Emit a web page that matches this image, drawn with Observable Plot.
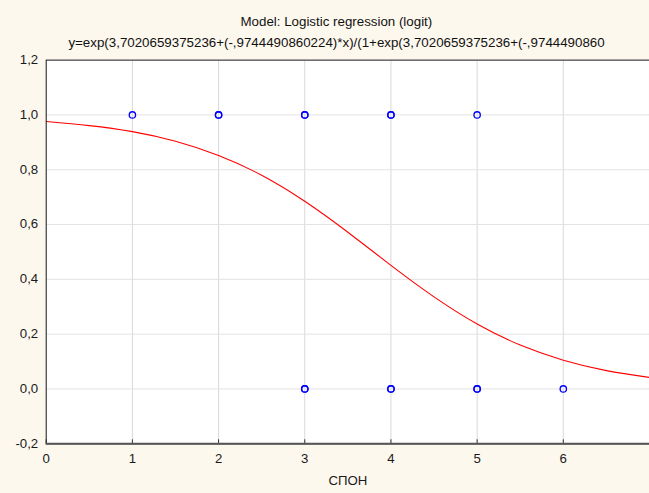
<!DOCTYPE html>
<html>
<head>
<meta charset="utf-8">
<script src="https://cdn.jsdelivr.net/npm/d3@7"></script>
<script src="https://cdn.jsdelivr.net/npm/@observablehq/plot@0.6"></script>
<style>
  html, body { margin: 0; padding: 0; }
  body { background: #fdf8ee; width: 649px; height: 493px; overflow: hidden; position: relative;
         font-family: "Liberation Sans", Arial, sans-serif; }
  .ttl { position: absolute; left: 0; width: 673px; text-align: center; font-size: 12px; line-height: 14px; color: #111; }
  .ttl span { display: inline-block; transform: scaleX(1.11); }
  #chart { position: absolute; left: 0; top: 0; }
</style>
</head>
<body>
<div class="ttl" style="top:15px"><span>Model: Logistic regression (logit)</span></div>
<div class="ttl" style="top:36px"><span>y=exp(3,7020659375236+(-,9744490860224)*x)/(1+exp(3,7020659375236+(-,9744490860</span></div>
<div id="chart"></div>
<script>
// Tick values
const xTicks = [0, 1, 2, 3, 4, 5, 6];
const yTicks = [-0.2, 0, 0.2, 0.4, 0.6, 0.8, 1.0, 1.2];

// Observations (СПОН, outcome); repeated values overlap
const obsSpon    = [1, 2, 2, 3, 3, 4, 4, 5, 3, 3, 4, 4, 5, 5, 6];
const obsOutcome = [1, 1, 1, 1, 1, 1, 1, 1, 0, 0, 0, 0, 0, 0, 0];

// Fitted logistic curve
const curveX = [0, 0.5, 1, 1.5, 2, 2.5, 3, 3.5, 4, 4.5, 5, 5.5, 6, 6.5, 7];
const curveY = [0.976, 0.961, 0.939, 0.904, 0.852, 0.780, 0.685, 0.572, 0.451, 0.336, 0.237, 0.160, 0.105, 0.067, 0.042];

const obs = obsSpon.map((x, i) => ({x, y: obsOutcome[i]}));
const curve = curveX.map((x, i) => ({x, y: curveY[i]}));
const fmtY = d => d.toFixed(1).replace(".", ",");

const chart = Plot.plot({
  width: 653,
  height: 493,
  marginLeft: 46,
  marginRight: 0,
  marginTop: 60,
  marginBottom: 47,
  style: {background: "transparent", fontFamily: "'Liberation Sans', Arial, sans-serif", fontSize: "12px", color: "#1a1a1a", overflow: "visible"},
  x: {domain: [0, 7]},
  y: {domain: [-0.2, 1.2]},
  marks: [
    Plot.frame({fill: "white"}),
    Plot.gridX(xTicks, {stroke: "#d8d8d8", strokeOpacity: 1}),
    Plot.gridY(yTicks, {stroke: "#e2e2e2", strokeOpacity: 1}),
    Plot.axisY(yTicks, {tickSize: 0, tickPadding: 8, tickFormat: fmtY, label: null}),
    Plot.axisX(xTicks, {tickSize: 0, tickPadding: 11, tickFormat: d => String(d), label: "СПОН", labelArrow: "none", labelAnchor: "center", labelOffset: 42}),
    Plot.axisX(xTicks, {tickSize: 4, dy: -4, tickFormat: () => "", label: null, stroke: "#333"}),
    Plot.line(curve, {x: "x", y: "y", stroke: "#ff0000", strokeWidth: 1.1, curve: "natural"}),
    Plot.dot(obs, {x: "x", y: "y", r: 3.2, stroke: "#0000ff", strokeWidth: 1.3, fill: "none"}),
    Plot.frame({stroke: "#222", strokeWidth: 1}),
    Plot.ruleY([-0.2], {stroke: "#555", strokeWidth: 2})
  ]
});
document.getElementById("chart").append(chart);

// stretch text horizontally like the reference
chart.querySelectorAll("text").forEach(t => {
  const bb = t.getBBox();
  const anchor = getComputedStyle(t).textAnchor;
  const ax = anchor === "end" ? bb.x + bb.width : anchor === "middle" ? bb.x + bb.width / 2 : bb.x;
  const tr = t.getAttribute("transform") || "";
  t.setAttribute("transform", `${tr} translate(${ax},0) scale(1.11,1) translate(${-ax},0)`);
});
</script>
</body>
</html>
